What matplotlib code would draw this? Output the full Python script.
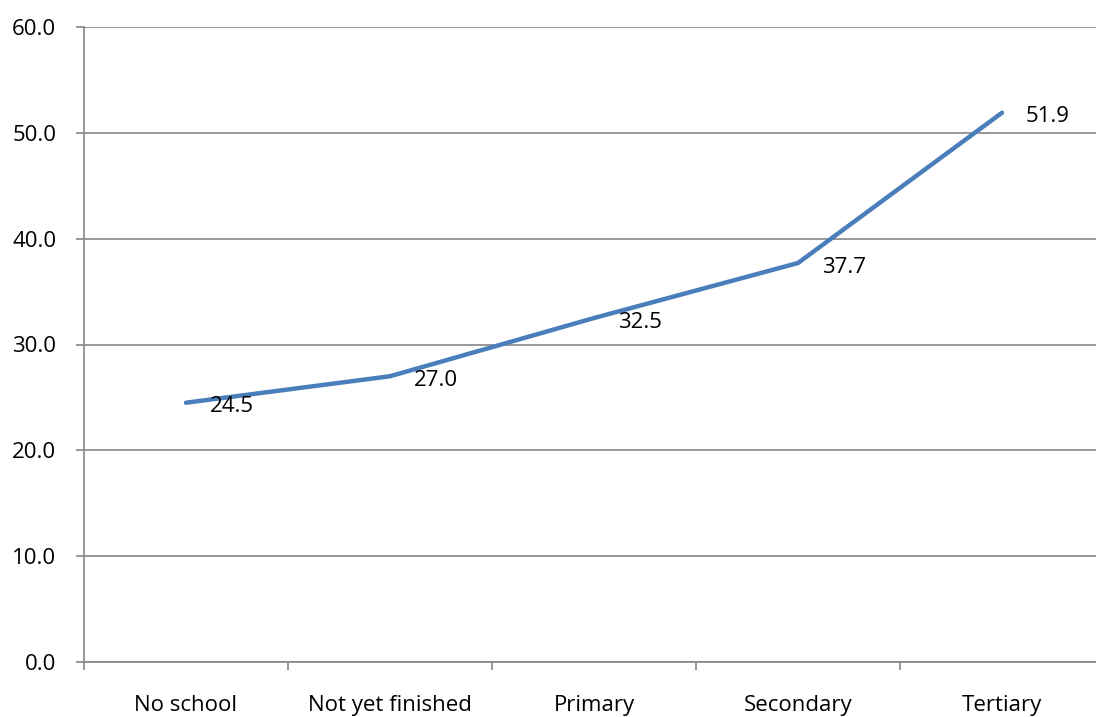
import matplotlib
matplotlib.use("Agg")
import matplotlib.pyplot as plt

categories = ["No school", "Not yet finished", "Primary", "Secondary", "Tertiary"]
values = [24.5, 27.0, 32.5, 37.7, 51.9]
yticks = [0, 10, 20, 30, 40, 50, 60]

plt.rcParams['font.family'] = ['Open Sans', 'DejaVu Sans']
W, H = 1096, 717
fig = plt.figure(figsize=(W/100, H/100), dpi=100)
left, right, top, bottom = 84, 1104, 27, 662
ax = fig.add_axes([left/W, 1-bottom/H, (right-left)/W, (bottom-top)/H])

grey = '#868686'
fs = 16
x = list(range(len(categories)))
ax.plot(x, values, color='#4A7EBB', lw=3.2, solid_capstyle='round', zorder=3)
for xi, v in zip(x, values):
    ax.annotate(f"{v:.1f}", (xi, v), xytext=(17, -3), textcoords='offset points',
                ha='left', va='center', fontsize=fs, color='black')

ax.set_xlim(-0.5, len(categories)-0.5)
ax.set_ylim(0, 60)
ax.set_yticks(yticks)
ax.set_yticklabels([f"{t:.1f}" for t in yticks], fontsize=fs)
ax.yaxis.grid(True, color=grey, lw=1.2)
ax.set_axisbelow(True)
ax.set_xticks(x)
ax.set_xticklabels(categories, fontsize=fs)
ax.tick_params(axis='x', length=0, pad=24)
ax.set_xticks([i - 0.5 for i in range(len(categories)+1)], minor=True)
ax.tick_params(axis='x', which='minor', length=6, width=1.2, color=grey)
ax.tick_params(axis='y', length=6, width=1.2, color=grey, pad=14)
for s in ['top', 'right']:
    ax.spines[s].set_visible(False)
for s in ['left', 'bottom']:
    ax.spines[s].set_color(grey)
    ax.spines[s].set_linewidth(1.2)

fig.savefig("out.png", dpi=100)
